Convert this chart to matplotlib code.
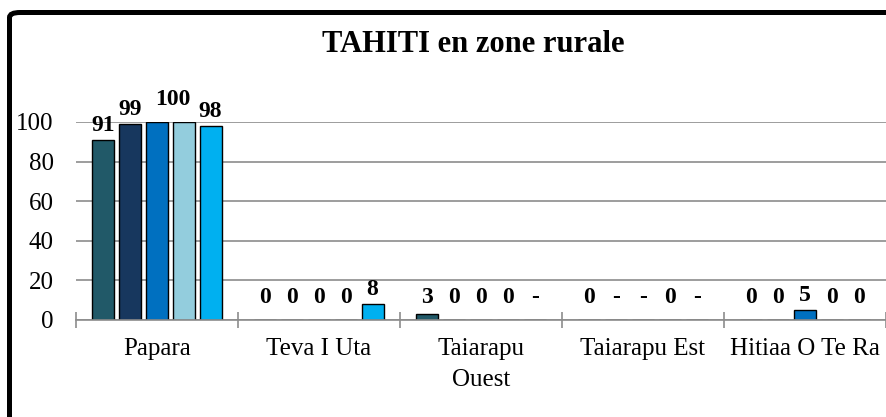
import numpy as np
import matplotlib
matplotlib.use("Agg")
import matplotlib.pyplot as plt
from matplotlib.patches import FancyBboxPatch

categories = ["Papara", "Teva I Uta", "Taiarapu\nOuest", "Taiarapu Est", "Hitiaa O Te Ra"]
nan = np.nan
serie1 = [91, 0, 3, 0, 0]
serie2 = [99, 0, 0, nan, 0]
serie3 = [100, 0, 0, nan, 5]
serie4 = [100, 0, 0, 0, 0]
serie5 = [98, 8, nan, nan, 0]
series = [serie1, serie2, serie3, serie4, serie5]
colors = ["#215968", "#17375E", "#0070C0", "#93CDDD", "#00B0F0"]
title = "TAHITI en zone rurale"
yticks = [0, 20, 40, 60, 80, 100]

plt.rcParams['font.family'] = ['Liberation Serif', 'DejaVu Serif']

fig = plt.figure(figsize=(8.87, 4.17), dpi=100)
ax = fig.add_axes([76/887, 1-320/417, 810/887, 198/417])

step = 0.1654
width = 0.135
x = np.arange(len(categories))
label_hidden = {(3, 0)}
label_shift = {(2, 0): (0.1, 4.0)}
for i, (vals, c) in enumerate(zip(series, colors)):
    off = (i - 2) * step
    v = np.array(vals, dtype=float)
    ax.bar(x + off, np.nan_to_num(v), width=width, color=c, edgecolor="black",
           linewidth=1.0, zorder=3)
    for j, val in enumerate(v):
        if (i, j) in label_hidden:
            continue
        txt = "-" if np.isnan(val) else f"{int(val)}"
        base = 0 if np.isnan(val) else val
        ypos = max(base + 4.5, 8.6)
        dx, dy = label_shift.get((i, j), (0, 0))
        ax.text(j + off + dx, ypos + dy, txt, ha="center", va="baseline",
                fontsize=17, fontweight="bold", zorder=4, clip_on=False)

ax.set_xlim(-0.5, len(categories) - 0.5)
ax.set_ylim(0, 100)
ax.set_yticks(yticks)
ax.yaxis.grid(True, color="#8c8c8c", linewidth=1.2, zorder=0)
ax.set_axisbelow(True)
for s in ["top", "right", "left"]:
    ax.spines[s].set_visible(False)
ax.spines["bottom"].set_color("#8c8c8c")
ax.spines["bottom"].set_linewidth(1.2)
ax.spines["bottom"].set_zorder(5)
ax.tick_params(axis="y", length=0, pad=16, labelsize=18)

ax.set_xticks(np.arange(-0.5, len(categories), 1.0))
ax.set_xticklabels([])
ax.tick_params(axis="x", which="major", direction="inout", length=11,
               width=1.2, color="#8c8c8c")
ax.set_xticks(x, minor=True)
ax.set_xticklabels(categories, minor=True, fontsize=18, linespacing=1.55)
ax.tick_params(axis="x", which="minor", length=0, pad=13)

fig.text(473.5/887, 1-52/417, title, ha="center", va="baseline",
         fontsize=22, fontweight="bold")

border = FancyBboxPatch((9.5/887, -0.2), 1.2, 1.2 - 12.5/417 + 0.0,
                        boxstyle="round,pad=0,rounding_size=0.012",
                        transform=fig.transFigure, fill=False,
                        edgecolor="black", linewidth=3.6)
fig.patches.append(border)

fig.savefig("out.png", dpi=100)
